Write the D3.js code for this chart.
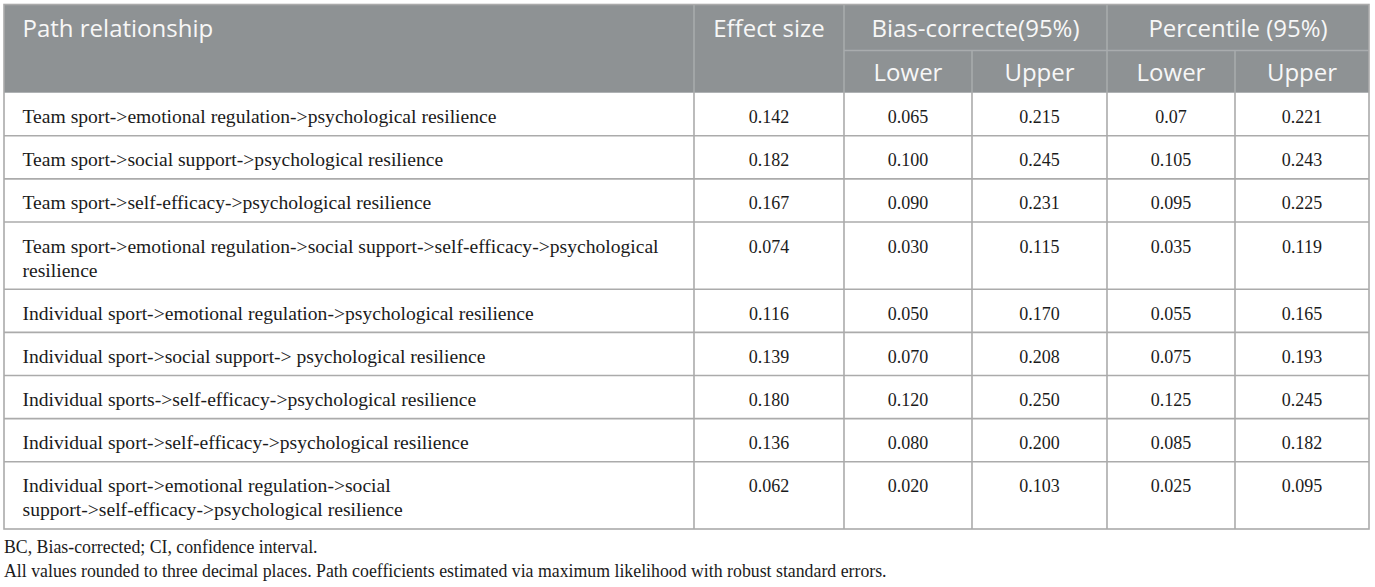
<!DOCTYPE html>
<html>
<head>
<meta charset="utf-8">
<script src="https://cdn.jsdelivr.net/npm/d3@7"></script>
<style>
  html, body { margin: 0; padding: 0; background: #ffffff; }
  svg { display: block; }
</style>
</head>
<body>
<svg id="chart" width="1375" height="587"></svg>
<script>
// ---------------- data ----------------
const headerTop = ["Path relationship", "Effect size", "Bias-correcte(95%)", "Percentile (95%)"];
const headerSub = ["Lower", "Upper", "Lower", "Upper"];
const paths = [
  "Team sport->emotional regulation->psychological resilience",
  "Team sport->social support->psychological resilience",
  "Team sport->self-efficacy->psychological resilience",
  "Team sport->emotional regulation->social support->self-efficacy->psychological resilience",
  "Individual sport->emotional regulation->psychological resilience",
  "Individual sport->social support-> psychological resilience",
  "Individual sports->self-efficacy->psychological resilience",
  "Individual sport->self-efficacy->psychological resilience",
  "Individual sport->emotional regulation->social support->self-efficacy->psychological resilience"
];
const effectSize = ["0.142", "0.182", "0.167", "0.074", "0.116", "0.139", "0.180", "0.136", "0.062"];
const bcLower    = ["0.065", "0.100", "0.090", "0.030", "0.050", "0.070", "0.120", "0.080", "0.020"];
const bcUpper    = ["0.215", "0.245", "0.231", "0.115", "0.170", "0.208", "0.250", "0.200", "0.103"];
const pcLower    = ["0.07",  "0.105", "0.095", "0.035", "0.055", "0.075", "0.125", "0.085", "0.025"];
const pcUpper    = ["0.221", "0.243", "0.225", "0.119", "0.165", "0.193", "0.245", "0.182", "0.095"];
const footnotes = [
  "BC, Bias-corrected; CI, confidence interval.",
  "All values rounded to three decimal places. Path coefficients estimated via maximum likelihood with robust standard errors."
];

// ---------------- layout ----------------
const colEdges = [4, 694, 844, 972, 1107, 1235, 1369];
const tableTop = 4.5, subLineY = 50.6, headerBottom = 92.7;
const rowBase = 43.1, lineStep = 24.2, baselineOff = 30.6, padLeft = 18.5, wrapWidth = 662;
const headerBg = "#8e9294", headerLine = "#a9acae", headerText = "#f7f7f7";
const gridColor = "#ababab", textColor = "#1b1b1b";
const serif = "'Liberation Serif', 'Times New Roman', serif";
const sans = "'Open Sans', 'Noto Sans', sans-serif";

const svg = d3.select("#chart");

// column scale: ordinal index -> left edge
const colX = d3.scaleOrdinal().domain(d3.range(colEdges.length)).range(colEdges);

// wrap text by measuring
const measurer = svg.append("text")
  .attr("font-family", serif).attr("font-size", 19.6).attr("visibility", "hidden");
function wrap(str) {
  const words = str.split(" ");
  const lines = [];
  let cur = "";
  words.forEach(w => {
    const test = cur ? cur + " " + w : w;
    measurer.text(test);
    if (cur && measurer.node().getComputedTextLength() > wrapWidth) {
      lines.push(cur);
      cur = w;
    } else cur = test;
  });
  if (cur) lines.push(cur);
  return lines;
}
const rows = paths.map((p, i) => ({
  lines: wrap(p),
  vals: [effectSize[i], bcLower[i], bcUpper[i], pcLower[i], pcUpper[i]]
}));
measurer.remove();
rows.forEach(r => r.h = rowBase + (r.lines.length - 1) * lineStep);
const rowTops = [headerBottom];
rows.forEach((r, i) => rowTops.push(rowTops[i] + r.h));
rows.forEach((r, i) => r.y = rowTops[i]);
const tableBottom = rowTops[rowTops.length - 1];

// ---------------- header ----------------
const hdr = svg.append("g");
hdr.append("rect")
  .attr("x", colX(0)).attr("y", tableTop)
  .attr("width", colX(6) - colX(0)).attr("height", headerBottom - tableTop)
  .attr("fill", headerBg);

// header lines
const hLines = [
  [colX(1), tableTop, colX(1), headerBottom],
  [colX(2), tableTop, colX(2), headerBottom],
  [colX(4), tableTop, colX(4), headerBottom],
  [colX(3), subLineY, colX(3), headerBottom],
  [colX(5), subLineY, colX(5), headerBottom],
  [colX(2), subLineY, colX(6), subLineY]
];
hdr.selectAll("line.h").data(hLines).join("line")
  .attr("x1", d => d[0]).attr("y1", d => d[1]).attr("x2", d => d[2]).attr("y2", d => d[3])
  .attr("stroke", headerLine).attr("stroke-width", 1.5);

const topCells = [
  { t: headerTop[0], x: colX(0) + padLeft, anchor: "start" },
  { t: headerTop[1], x: (colX(1) + colX(2)) / 2, anchor: "middle" },
  { t: headerTop[2], x: (colX(2) + colX(4)) / 2, anchor: "middle" },
  { t: headerTop[3], x: (colX(4) + colX(6)) / 2, anchor: "middle" }
];
hdr.selectAll("text.top").data(topCells).join("text")
  .attr("class", "top")
  .attr("x", d => d.x).attr("y", 37)
  .attr("text-anchor", d => d.anchor)
  .attr("font-family", sans).attr("font-size", 24).attr("fill", headerText)
  .text(d => d.t);
hdr.selectAll("text.sub").data(headerSub).join("text")
  .attr("class", "sub")
  .attr("x", (d, i) => (colX(i + 2) + colX(i + 3)) / 2).attr("y", 80.5)
  .attr("text-anchor", "middle")
  .attr("font-family", sans).attr("font-size", 24).attr("fill", headerText)
  .text(d => d);

// ---------------- body ----------------
const body = svg.append("g");
// horizontal row lines
body.selectAll("line.row").data(rowTops.slice(1, -1)).join("line")
  .attr("class", "row")
  .attr("x1", colX(0)).attr("x2", colX(6))
  .attr("y1", d => d).attr("y2", d => d)
  .attr("stroke", gridColor).attr("stroke-width", 1.6);
// vertical lines
body.selectAll("line.col").data(d3.range(1, 6)).join("line")
  .attr("class", "col")
  .attr("x1", d => colX(d)).attr("x2", d => colX(d))
  .attr("y1", headerBottom).attr("y2", tableBottom)
  .attr("stroke", gridColor).attr("stroke-width", 1.6);

const rowG = body.selectAll("g.r").data(rows).join("g").attr("class", "r")
  .attr("transform", d => `translate(0,${d.y})`);
rowG.each(function (d) {
  const g = d3.select(this);
  const t = g.append("text")
    .attr("font-family", serif).attr("font-size", 19.6).attr("fill", textColor);
  t.selectAll("tspan").data(d.lines).join("tspan")
    .attr("x", colX(0) + padLeft)
    .attr("y", (l, k) => baselineOff + k * lineStep)
    .text(l => l);
  g.selectAll("text.v").data(d.vals).join("text")
    .attr("class", "v")
    .attr("x", (v, k) => (colX(k + 1) + colX(k + 2)) / 2)
    .attr("y", baselineOff)
    .attr("text-anchor", "middle")
    .attr("font-family", serif).attr("font-size", 18).attr("fill", textColor)
    .text(v => v);
});

// outer border
svg.append("rect")
  .attr("x", colX(0)).attr("y", tableTop)
  .attr("width", colX(6) - colX(0)).attr("height", tableBottom - tableTop)
  .attr("fill", "none").attr("stroke", gridColor).attr("stroke-width", 1.6);

// ---------------- footnotes ----------------
svg.selectAll("text.fn").data(footnotes).join("text")
  .attr("class", "fn")
  .attr("x", colX(0)).attr("y", (d, i) => 553 + i * 24)
  .attr("font-family", serif).attr("font-size", 17.8).attr("fill", textColor)
  .text(d => d);
</script>
</body>
</html>
